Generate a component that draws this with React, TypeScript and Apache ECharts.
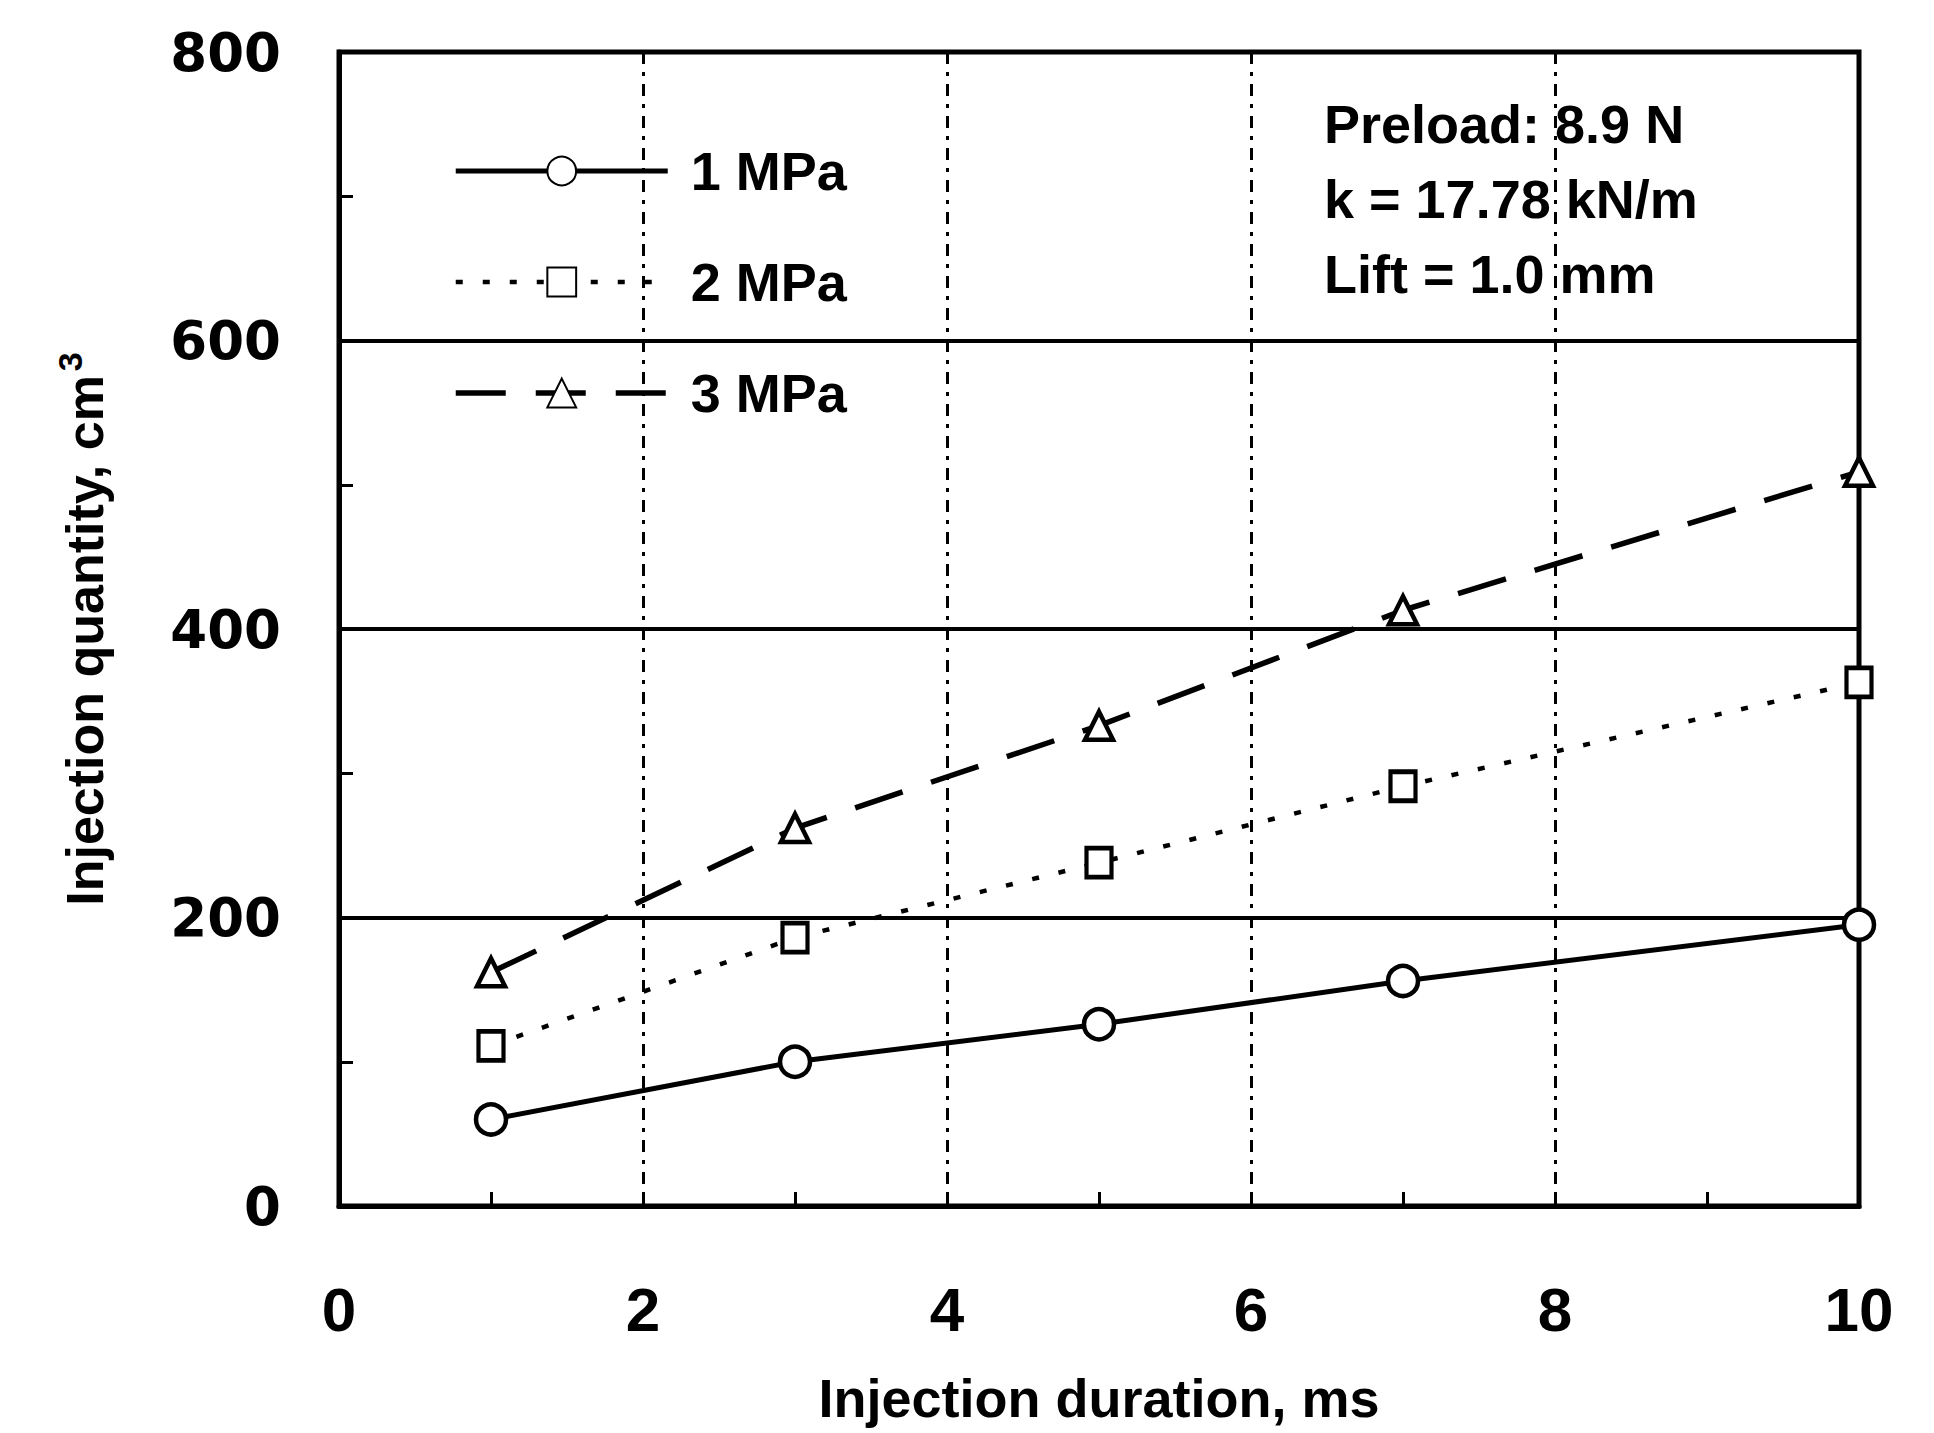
import React, { useEffect, useRef } from "react";
import * as echarts from "echarts";

const xDuration = [1, 3, 5, 7, 10];
const q1MPa = [60, 100, 126, 156, 195];
const q2MPa = [111, 186, 238, 291, 363];
const q3MPa = [162, 262, 333, 413, 509];
const seriesNames = ["1 MPa", "2 MPa", "3 MPa"];
const annotationLines = ["Preload: 8.9 N", "k = 17.78 kN/m", "Lift = 1.0 mm"];

const pairs = (ys: number[]) => xDuration.map((x, i) => [x, ys[i]]);

export default function App() {
  const ref = useRef<HTMLDivElement>(null);
  useEffect(() => {
    document.body.style.margin = "0";
    const chart = echarts.init(ref.current!, null, { renderer: "svg" });
    const font = "Liberation Sans, Arial, sans-serif";
    const markerStyle = { color: "#fff", borderColor: "#000", borderWidth: 4.5 };
    const line1 = { color: "#000", width: 5, type: "solid" };
    const line2 = { color: "#000", width: 4.5, type: [7, 20] };
    const line3 = { color: "#000", width: 5.5, type: [50, 30] };
    chart.setOption({
      animation: false,
      backgroundColor: "#fff",
      grid: {
        left: 339,
        right: 75,
        top: 52,
        bottom: 227,
        show: true,
        borderColor: "#000",
        borderWidth: 5,
      },
      xAxis: {
        type: "value",
        min: 0,
        max: 10,
        interval: 2,
        name: "Injection duration, ms",
        nameLocation: "middle",
        nameGap: 165,
        nameTextStyle: { fontFamily: font, fontWeight: "bold", fontSize: 54, color: "#000" },
        axisLine: { show: true, lineStyle: { color: "#000", width: 5 } },
        axisTick: { show: true, inside: true, length: 14, lineStyle: { color: "#000", width: 3 } },
        minorTick: { show: true, splitNumber: 2, length: 14, lineStyle: { color: "#000", width: 3 } },
        axisLabel: { margin: 72, fontFamily: font, fontWeight: "bold", fontSize: 62, color: "#000" },
        splitLine: { show: true, lineStyle: { color: "#000", width: 3, type: [12, 8, 4, 8] } },
      },
      yAxis: {
        type: "value",
        min: 0,
        max: 800,
        interval: 200,
        name: "Injection quantity, cm{sup|3}",
        nameLocation: "middle",
        nameGap: 222,
        nameTextStyle: {
          fontFamily: font,
          fontWeight: "bold",
          fontSize: 52,
          color: "#000",
          rich: {
            sup: { fontFamily: font, fontWeight: "bold", fontSize: 34, color: "#000", verticalAlign: "top", padding: [0, 0, 30, 4] },
          },
        },
        axisLine: { show: true, lineStyle: { color: "#000", width: 5 } },
        axisTick: { show: true, inside: true, length: 14, lineStyle: { color: "#000", width: 3 } },
        minorTick: { show: true, splitNumber: 2, length: 14, lineStyle: { color: "#000", width: 3 } },
        axisLabel: { margin: 58, fontFamily: "DejaVu Sans, sans-serif", fontWeight: "bold", fontSize: 53, color: "#000" },
        splitLine: { show: true, lineStyle: { color: "#000", width: 4 } },
      },
      legend: {
        orient: "vertical",
        left: 448,
        top: 136,
        itemWidth: 212,
        itemHeight: 36,
        itemGap: 51,
        textStyle: { fontFamily: font, fontWeight: "bold", fontSize: 54, color: "#000", lineHeight: 60, padding: [0, 0, 0, 18] },
        data: [
          { name: seriesNames[0], lineStyle: line1 },
          { name: seriesNames[1], lineStyle: line2 },
          { name: seriesNames[2], lineStyle: line3 },
        ],
      },
      graphic: [
        {
          type: "text",
          left: 1324,
          top: 86,
          style: {
            text: annotationLines.join("\n"),
            font: `bold 54px ${font}`,
            lineHeight: 75,
            fill: "#000",
          },
        },
      ],
      series: [
        {
          name: seriesNames[0],
          type: "line",
          data: pairs(q1MPa),
          symbol: "circle",
          symbolSize: 30,
          itemStyle: markerStyle,
          lineStyle: line1,
          z: 3,
        },
        {
          name: seriesNames[1],
          type: "line",
          data: pairs(q2MPa),
          symbol: "rect",
          symbolSize: [25, 29],
          itemStyle: markerStyle,
          lineStyle: line2,
          z: 3,
        },
        {
          name: seriesNames[2],
          type: "line",
          data: pairs(q3MPa),
          symbol: "triangle",
          symbolSize: 28,
          itemStyle: markerStyle,
          lineStyle: line3,
          z: 3,
        },
      ],
    });
    return () => chart.dispose();
  }, []);
  return <div ref={ref} style={{ width: 1934, height: 1433 }} />;
}
